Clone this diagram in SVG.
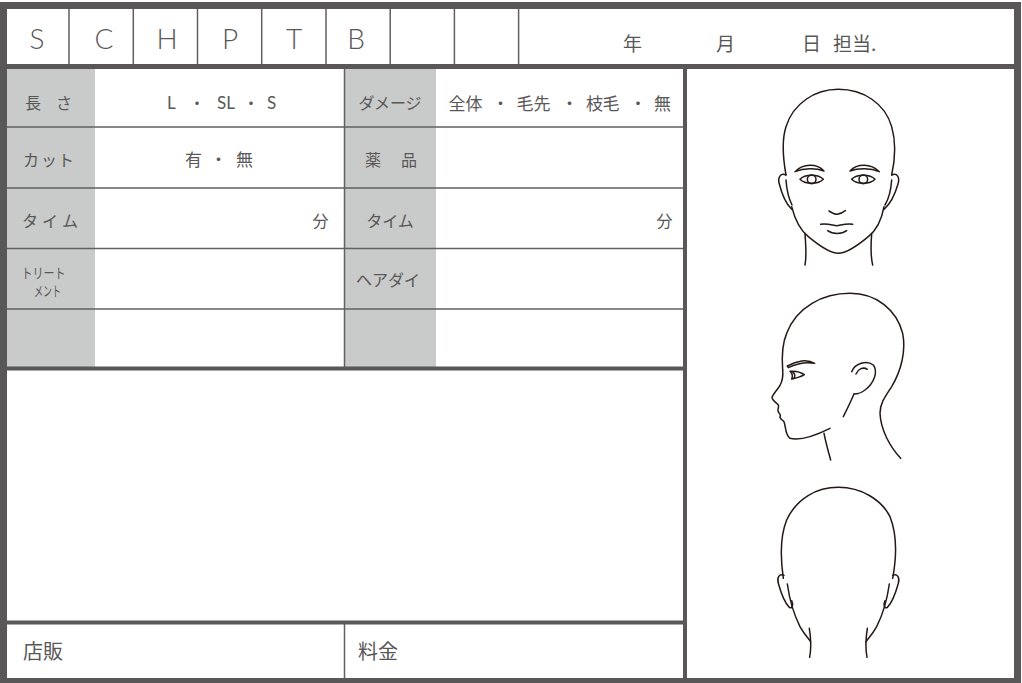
<svg xmlns="http://www.w3.org/2000/svg" width="1022" height="683" viewBox="0 0 1022 683">
<style>
.thick{stroke:#595757;fill:none}
.thin{stroke:#626060;stroke-width:1.5;fill:none}
.gray{fill:#c9caca}
.jp{font-family:"Noto Sans CJK JP",sans-serif;fill:#595757}
.lt{font-family:"Lato","Liberation Sans",sans-serif;font-weight:300;fill:#595757}
.lr{font-family:"Lato","Liberation Sans",sans-serif;font-weight:400;fill:#595757}
.head path,.head circle{fill:none;stroke:#231815;stroke-width:1.5;stroke-linecap:round;stroke-linejoin:round}
</style>
<rect x="0" y="0" width="1022" height="683" fill="#ffffff"/>
<g id="shading">
<rect class="gray" x="7" y="68" width="88" height="300"/>
<rect class="gray" x="345" y="68" width="91" height="300"/>
</g>
<g id="grid">
<g class="thin">
<path d="M69 9V64M133.3 9V64M197.5 9V64M261.7 9V64M326 9V64M390.2 9V64M454.4 9V64M518.6 9V64"/>
<path d="M7 127H685M7 188H685M7 248.5H685M7 309H685"/>
<path d="M344.5 68V367M344.5 623V679"/>
</g>
<g class="thick">
<path d="M5 66.5H1017" stroke-width="5"/>
<path d="M7 368.5H685M7 622.5H685" stroke-width="4"/>
<path d="M685 66V681" stroke-width="4"/>
<rect x="3.5" y="5.5" width="1014" height="676" stroke-width="7"/>
</g>
</g>
<g id="header">
<g class="lt" font-size="28" text-anchor="middle">
<text x="37" y="49">S</text>
<text x="104" y="49">C</text>
<text x="167" y="49">H</text>
<text x="230" y="49">P</text>
<text x="294" y="49">T</text>
<text x="356" y="49">B</text>
</g>
<g class="jp" font-size="19">
<text x="623" y="51">年</text>
<text x="716" y="51">月</text>
<text x="802" y="51">日</text>
<text x="833" y="51">担当.</text>
</g>
</g>
<g id="row-length">
<text class="jp" font-size="16" x="25 56" y="109">長さ</text>
<text class="lr" font-size="17" x="167" y="109">L</text>
<text class="jp" font-size="16" x="189" y="109">・</text>
<text class="lr" font-size="17" x="217" y="109">SL</text>
<text class="jp" font-size="16" x="243" y="109">・</text>
<text class="lr" font-size="17" x="267" y="109">S</text>
<text class="jp" font-size="16" x="390" y="109" text-anchor="middle">ダメージ</text>
<text class="jp" font-size="17" x="448.5 465.5 492 516.5 533.5 561 586 602.5 629.5 654" y="110">全体・毛先・枝毛・無</text>
</g>
<g id="row-cut">
<text class="jp" font-size="16" x="23 41 58" y="166">カット</text>
<text class="jp" font-size="17" x="185 210 236" y="166">有・無</text>
<text class="jp" font-size="16" x="365 401" y="166">薬品</text>
</g>
<g id="row-time">
<text class="jp" font-size="16" x="22 42 62" y="227">タイム</text>
<text class="jp" font-size="16" x="312.5" y="227">分</text>
<text class="jp" font-size="16" x="390" y="227" text-anchor="middle">タイム</text>
<text class="jp" font-size="16" x="656.5" y="227">分</text>
</g>
<g id="row-treatment">
<text class="jp" font-size="14" x="21.5" y="277.5" textLength="44" lengthAdjust="spacingAndGlyphs">トリート</text>
<text class="jp" font-size="14" x="34" y="295.5" textLength="27" lengthAdjust="spacingAndGlyphs">メント</text>
<text class="jp" font-size="16" x="388" y="286" text-anchor="middle">ヘアダイ</text>
</g>
<g id="row-blank"></g>
<g id="notes"></g>
<g id="footer">
<text class="jp" font-size="20" x="23" y="659">店販</text>
<text class="jp" font-size="20" x="358" y="659">料金</text>
</g>
<g id="head-front" class="head" transform="translate(750,80) scale(0.33333)">
<path vector-effect="non-scaling-stroke" d="M108,285 C100,240 95,180 108,140 C130,70 195,28 265,28 C340,28 405,70 425,140 C438,185 435,240 425,285"/>
<path vector-effect="non-scaling-stroke" d="M125,380 C135,420 150,450 175,470 C205,495 240,520 265,520 C290,520 325,495 355,470 C380,450 395,420 402,380"/>
<path vector-effect="non-scaling-stroke" d="M108,285 C92,278 82,292 88,312 C95,340 105,368 125,388 M108,300 C110,330 116,355 126,375"/>
<path vector-effect="non-scaling-stroke" d="M425,285 C442,278 450,292 444,312 C436,340 425,368 402,388 M425,300 C423,330 417,355 405,375"/>
<path vector-effect="non-scaling-stroke" d="M165,462 C168,500 170,530 165,555 M365,462 C362,500 362,530 368,555"/>
<path vector-effect="non-scaling-stroke" d="M135,275 C160,250 200,250 222,273 C198,264 162,264 135,275 Z"/>
<path vector-effect="non-scaling-stroke" d="M300,273 C322,250 362,250 388,275 C362,264 325,264 300,273 Z"/>
<path vector-effect="non-scaling-stroke" d="M150,298 C165,282 205,282 220,298 C205,314 165,314 150,298 Z"/>
<circle vector-effect="non-scaling-stroke" cx="185" cy="298" r="13"/>
<path vector-effect="non-scaling-stroke" d="M305,298 C320,282 360,282 375,298 C360,314 320,314 305,298 Z"/>
<circle vector-effect="non-scaling-stroke" cx="340" cy="298" r="13"/>
<path vector-effect="non-scaling-stroke" d="M237,393 C248,400 255,404 262,403 C270,402 278,398 286,392"/>
<path vector-effect="non-scaling-stroke" d="M212,433 C235,430 250,437 260,437 C270,437 285,430 308,433"/>
<path vector-effect="non-scaling-stroke" d="M233,452 C248,463 275,463 290,452"/>
</g>
<g id="head-side" class="head" transform="translate(750,280) scale(0.33333)">
<path vector-effect="non-scaling-stroke" d="M98,270 C95,230 95,195 110,160 C140,80 220,40 300,40 C380,40 440,90 458,160 C468,210 455,270 425,320 C405,350 390,370 390,400 C392,450 420,500 452,535"/>
<path vector-effect="non-scaling-stroke" d="M98,270 C100,292 98,302 90,316 C82,330 70,340 66,352 C66,362 80,368 85,375 C88,382 82,388 84,393 C86,400 95,405 90,410 C88,415 98,420 102,425 C108,440 105,465 120,475 C150,482 200,465 240,445"/>
<path vector-effect="non-scaling-stroke" d="M222,460 C228,490 235,515 242,540"/>
<path vector-effect="non-scaling-stroke" d="M312,342 C300,370 290,390 280,410"/>
<path vector-effect="non-scaling-stroke" d="M305,275 C315,250 350,240 370,255 C385,275 372,310 345,330 C335,338 322,342 312,342"/>
<path vector-effect="non-scaling-stroke" d="M318,282 C325,266 340,260 352,268"/>
<path vector-effect="non-scaling-stroke" d="M112,258 C140,242 172,236 194,250 C170,246 140,251 115,263 Z"/>
<path vector-effect="non-scaling-stroke" d="M120,274 C136,272 150,275 163,284 C150,292 136,295 125,297 C129,289 126,280 120,274 Z"/>
<path vector-effect="non-scaling-stroke" d="M128,276 C136,281 137,291 130,296"/>
</g>
<g id="head-back" class="head" transform="translate(750,470) scale(0.33333)">
<path vector-effect="non-scaling-stroke" d="M100,325 C92,270 90,200 110,150 C140,85 200,52 265,52 C335,52 395,90 420,140 C440,190 440,260 428,325"/>
<path vector-effect="non-scaling-stroke" d="M102,316 C88,310 80,322 85,340 C92,365 100,395 118,412 C126,418 131,405 125,392"/>
<path vector-effect="non-scaling-stroke" d="M112,342 C118,385 130,430 150,470 C162,492 175,505 182,515"/>
<path vector-effect="non-scaling-stroke" d="M178,475 C182,500 183,540 179,562"/>
<path vector-effect="non-scaling-stroke" d="M428,316 C442,310 450,322 445,340 C438,365 430,395 412,412 C404,418 399,405 405,392"/>
<path vector-effect="non-scaling-stroke" d="M418,342 C412,385 400,430 380,470 C368,492 355,505 348,515"/>
<path vector-effect="non-scaling-stroke" d="M352,475 C348,500 347,540 351,562"/>
</g>
</svg>
